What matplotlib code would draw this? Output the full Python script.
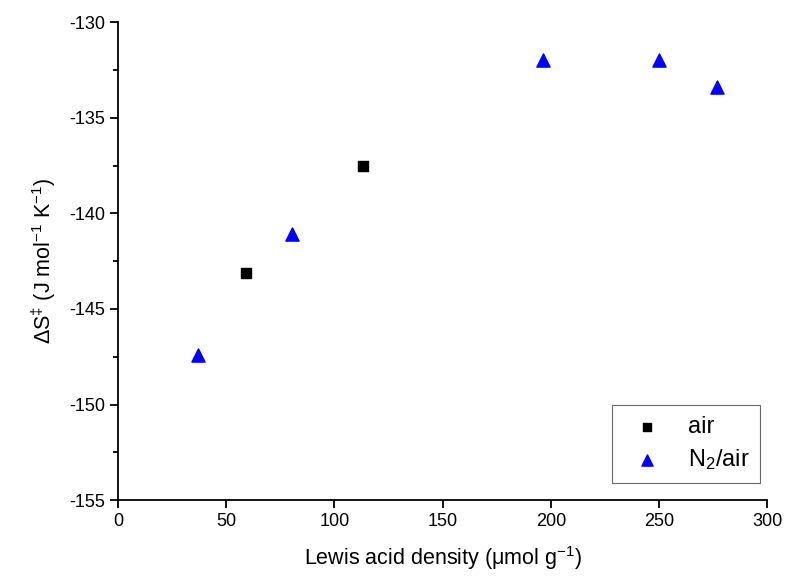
import matplotlib.pyplot as plt
from matplotlib.ticker import MultipleLocator

plt.rcParams['font.family'] = ['Liberation Sans', 'DejaVu Sans']
plt.rcParams['mathtext.fontset'] = 'custom'
plt.rcParams['mathtext.rm'] = 'Liberation Sans'
plt.rcParams['mathtext.it'] = 'Liberation Sans:italic'
plt.rcParams['axes.unicode_minus'] = False

air_x = [59.3, 113.3]
air_y = [-143.1, -137.5]
n2_x = [36.8, 80.4, 196.5, 250.0, 276.6]
n2_y = [-147.4, -141.1, -132.0, -132.0, -133.4]

fig = plt.figure(figsize=(7.87, 5.83), dpi=100)
ax = fig.add_axes([0.150, 0.142, 0.825, 0.820])

ax.scatter(air_x, air_y, marker='s', s=55, color='black', label='air', zorder=3)
ax.scatter(n2_x, n2_y, marker='^', s=90, color='#0000ff', label='N$_2$/air', zorder=3)

ax.set_xlim(0, 300)
ax.set_ylim(-155, -130)
ax.xaxis.set_major_locator(MultipleLocator(50))
ax.yaxis.set_major_locator(MultipleLocator(5))
ax.yaxis.set_minor_locator(MultipleLocator(2.5))

for s in ['top', 'right']:
    ax.spines[s].set_visible(False)
for s in ['left', 'bottom']:
    ax.spines[s].set_linewidth(1.3)

ax.tick_params(which='major', direction='out', length=6, width=1.3, labelsize=13)
ax.tick_params(which='minor', direction='out', length=3.5, width=1.3)

ax.set_xlabel('Lewis acid density (\u03bcmol g$^{-1}$)', fontsize=15.5, labelpad=10)
ax.set_ylabel('\u0394S$^{\u2021}$ (J mol$^{-1}$ K$^{-1}$)', fontsize=15.5, labelpad=8)

leg = ax.legend(loc='lower right', fontsize=17, frameon=True, fancybox=False,
                edgecolor='#444444', handletextpad=0.75, borderpad=0.45,
                labelspacing=0.4, markerscale=0.85,
                bbox_to_anchor=(1.007, 0.012))
leg.get_frame().set_linewidth(0.8)

plt.savefig('out.png', dpi=100)
plt.close()
